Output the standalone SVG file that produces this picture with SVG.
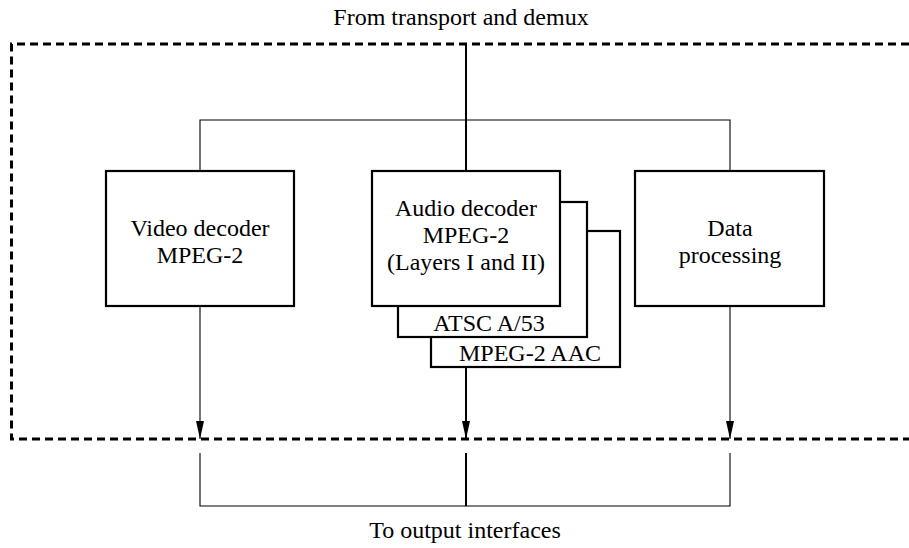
<svg xmlns="http://www.w3.org/2000/svg" width="909" height="548" viewBox="0 0 909 548">
  <style>
    text { font-family: "Liberation Serif", "Times New Roman", serif; font-size: 24px; fill: #000; text-anchor: middle; }
    .box { fill: #fff; stroke: #000; stroke-width: 2.2; }
    .thin { fill: none; stroke: #000; stroke-width: 1.1; }
    .main { fill: none; stroke: #000; stroke-width: 2; }
    .bound { fill: none; stroke: #000; stroke-width: 3; stroke-dasharray: 8 5; }
  </style>
  <defs>
    <!-- narrow filled arrowhead, tip at the end of the line -->
    <marker id="arrow" viewBox="0 0 18 8" refX="18" refY="4" markerWidth="18" markerHeight="8" markerUnits="userSpaceOnUse" orient="auto">
      <path d="M0 0 L18 4 L0 8 Z" fill="#000"/>
    </marker>
  </defs>

  <!-- decoder subsystem boundary (open on the right) -->
  <path class="bound" d="M909 44 H11.5 V439 H909"/>

  <text x="461" y="25">From transport and demux</text>
  <text x="465" y="538">To output interfaces</text>

  <g id="connectors">
    <!-- input distribution -->
    <line class="main" x1="466" y1="44" x2="466" y2="171"/>
    <path class="thin" d="M200 171 V120 H730 V171"/>
    <!-- decoder outputs -->
    <line class="thin" x1="200" y1="306" x2="200" y2="439" marker-end="url(#arrow)"/>
    <line class="main" x1="466" y1="367" x2="466" y2="439" marker-end="url(#arrow)"/>
    <line class="thin" x1="730" y1="306" x2="730" y2="439" marker-end="url(#arrow)"/>
    <!-- output collection -->
    <path class="thin" d="M200 453 V506 H730 V453"/>
    <line class="main" x1="466" y1="453" x2="466" y2="506"/>
  </g>

  <g id="video">
    <rect class="box" x="106" y="171" width="188" height="135"/>
    <text x="200" y="236">Video decoder</text>
    <text x="200" y="263">MPEG-2</text>
  </g>

  <g id="audio-aac">
    <rect class="box" x="431" y="231" width="189" height="136"/>
    <text x="530" y="361">MPEG-2 AAC</text>
  </g>

  <g id="audio-atsc">
    <rect class="box" x="398" y="202" width="189" height="135"/>
    <text x="489" y="331">ATSC A/53</text>
  </g>

  <g id="audio">
    <rect class="box" x="372" y="171" width="188" height="135"/>
    <text x="466" y="216">Audio decoder</text>
    <text x="466" y="243">MPEG-2</text>
    <text x="466" y="270">(Layers I and II)</text>
  </g>

  <g id="data">
    <rect class="box" x="635" y="171" width="189" height="135"/>
    <text x="730" y="236">Data</text>
    <text x="730" y="263">processing</text>
  </g>
</svg>
